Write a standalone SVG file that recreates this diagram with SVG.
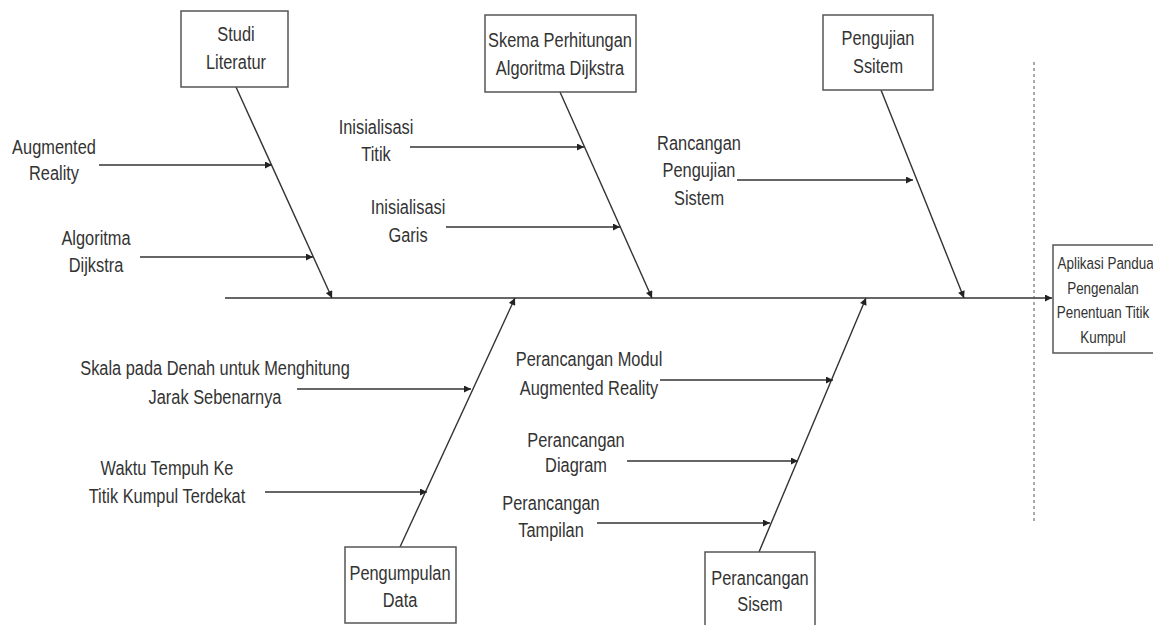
<svg xmlns="http://www.w3.org/2000/svg" width="1153" height="625" viewBox="0 0 1153 625">
<style>
text{font-family:"Liberation Sans",Arial,sans-serif;font-size:21px;fill:#333;text-anchor:middle}
.sm{font-size:17px}
.box{fill:#fff;stroke:#555;stroke-width:1.5}
.ln{stroke:#333;stroke-width:1.4;fill:none}
</style>
<defs>
<marker id="ah" viewBox="0 0 10 10" refX="10" refY="5" markerWidth="9" markerHeight="7" markerUnits="userSpaceOnUse" orient="auto"><path d="M0,0L10,5L0,10z" fill="#222"/></marker>
</defs>
<rect width="1153" height="625" fill="#fff"/>
<g id="connectors">
<line class="ln" x1="225" y1="298" x2="1052" y2="298" marker-end="url(#ah)"/>
<line x1="1034" y1="62" x2="1034" y2="522" stroke="#555" stroke-width="1" stroke-dasharray="3,3"/>
<line class="ln" x1="236" y1="87" x2="332" y2="298" marker-end="url(#ah)"/>
<line class="ln" x1="560" y1="92" x2="652" y2="298" marker-end="url(#ah)"/>
<line class="ln" x1="881" y1="90" x2="964" y2="298" marker-end="url(#ah)"/>
<line class="ln" x1="400" y1="547" x2="515" y2="298" marker-end="url(#ah)"/>
<line class="ln" x1="759" y1="552" x2="866" y2="298" marker-end="url(#ah)"/>
<line class="ln" x1="99" y1="165" x2="272" y2="165" marker-end="url(#ah)"/>
<line class="ln" x1="140" y1="257" x2="313" y2="257" marker-end="url(#ah)"/>
<line class="ln" x1="410" y1="147" x2="584" y2="147" marker-end="url(#ah)"/>
<line class="ln" x1="446" y1="227" x2="620" y2="227" marker-end="url(#ah)"/>
<line class="ln" x1="737" y1="180" x2="913" y2="180" marker-end="url(#ah)"/>
<line class="ln" x1="297" y1="389" x2="471" y2="389" marker-end="url(#ah)"/>
<line class="ln" x1="265" y1="492" x2="427" y2="492" marker-end="url(#ah)"/>
<line class="ln" x1="660" y1="380" x2="833" y2="380" marker-end="url(#ah)"/>
<line class="ln" x1="627" y1="461" x2="798" y2="461" marker-end="url(#ah)"/>
<line class="ln" x1="597" y1="523" x2="770" y2="523" marker-end="url(#ah)"/>
</g>
<g id="studi-literatur">
<rect class="box" x="181" y="11" width="107" height="76"/>
<text transform="translate(236 41) scale(0.78 1)"><tspan x="0" y="0">Studi</tspan><tspan x="0" y="28">Literatur</tspan></text>
</g>
<g id="skema">
<rect class="box" x="485" y="15" width="151" height="77"/>
<text transform="translate(560 47) scale(0.78 1)"><tspan x="0" y="0">Skema Perhitungan</tspan><tspan x="0" y="28">Algoritma Dijkstra</tspan></text>
</g>
<g id="pengujian-sistem">
<rect class="box" x="823" y="15" width="110" height="75"/>
<text transform="translate(878 45) scale(0.78 1)"><tspan x="0" y="0">Pengujian</tspan><tspan x="0" y="28">Ssitem</tspan></text>
</g>
<g id="pengumpulan-data">
<rect class="box" x="345" y="547" width="111" height="76"/>
<text transform="translate(400 580) scale(0.78 1)"><tspan x="0" y="0">Pengumpulan</tspan><tspan x="0" y="27">Data</tspan></text>
</g>
<g id="perancangan-sistem">
<rect class="box" x="705" y="552" width="110" height="80"/>
<text transform="translate(760 585) scale(0.78 1)"><tspan x="0" y="0">Perancangan</tspan><tspan x="0" y="26">Sisem</tspan></text>
</g>
<g id="hasil">
<rect class="box" x="1053" y="245" width="104" height="108"/>
<text class="sm" transform="translate(1103 269) scale(0.79 1)"><tspan x="8" y="0">Aplikasi Panduan</tspan><tspan x="0" y="25">Pengenalan</tspan><tspan x="0" y="49">Penentuan Titik</tspan><tspan x="0" y="74">Kumpul</tspan></text>
</g>
<g id="labels">
<text transform="translate(54 154) scale(0.78 1)"><tspan x="0" y="0">Augmented</tspan><tspan x="0" y="26">Reality</tspan></text>
<text transform="translate(96 245) scale(0.78 1)"><tspan x="0" y="0">Algoritma</tspan><tspan x="0" y="27">Dijkstra</tspan></text>
<text transform="translate(376 134) scale(0.78 1)"><tspan x="0" y="0">Inisialisasi</tspan><tspan x="0" y="27">Titik</tspan></text>
<text transform="translate(408 214) scale(0.78 1)"><tspan x="0" y="0">Inisialisasi</tspan><tspan x="0" y="28">Garis</tspan></text>
<text transform="translate(699 150) scale(0.78 1)"><tspan x="0" y="0">Rancangan</tspan><tspan x="0" y="27">Pengujian</tspan><tspan x="0" y="55">Sistem</tspan></text>
<text transform="translate(215 375) scale(0.78 1)"><tspan x="0" y="0">Skala pada Denah untuk Menghitung</tspan><tspan x="0" y="29">Jarak Sebenarnya</tspan></text>
<text transform="translate(167 475) scale(0.78 1)"><tspan x="0" y="0">Waktu Tempuh Ke</tspan><tspan x="0" y="28">Titik Kumpul Terdekat</tspan></text>
<text transform="translate(589 366) scale(0.78 1)"><tspan x="0" y="0">Perancangan Modul</tspan><tspan x="0" y="29">Augmented Reality</tspan></text>
<text transform="translate(576 447) scale(0.78 1)"><tspan x="0" y="0">Perancangan</tspan><tspan x="0" y="25">Diagram</tspan></text>
<text transform="translate(551 510) scale(0.78 1)"><tspan x="0" y="0">Perancangan</tspan><tspan x="0" y="27">Tampilan</tspan></text>
</g>
</svg>
